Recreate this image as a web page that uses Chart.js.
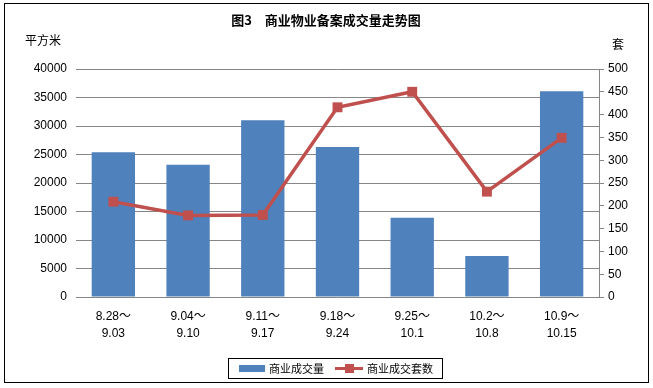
<html>
<head>
<meta charset="UTF-8">
<title>商业物业备案成交量走势图</title>
<style>
body { margin: 0; padding: 0; background: white; }
canvas { display: block; }
</style>
<script src="https://cdnjs.cloudflare.com/ajax/libs/Chart.js/4.4.1/chart.umd.min.js"></script>
</head>
<body>
<canvas id="canvas" width="653" height="388"></canvas>
<script>
// data
const weeks = [
    ["8.28～", "9.03"],
    ["9.04～", "9.10"],
    ["9.11～", "9.17"],
    ["9.18～", "9.24"],
    ["9.25～", "10.1"],
    ["10.2～", "10.8"],
    ["10.9～", "10.15"],
]
const area = [25400, 23200, 31000, 26300, 13900, 7200, 36100]
const units = [209, 179, 180, 416, 450, 231, 349]

const FONT = '"Liberation Sans", "Noto Sans CJK SC", sans-serif'
const CJK = '"Noto Sans CJK SC", sans-serif'
const BLUE = "#4f81bd"
const RED = "#c0504d"
const GRID = "#868686"

const frame = {
    id: "frame",
    beforeDraw(chart) {
        const c = chart.ctx
        c.save()
        c.fillStyle = "white"
        c.fillRect(0, 0, chart.width, chart.height)
        c.restore()
    },
    afterDraw(chart) {
        const c = chart.ctx
        c.save()
        c.strokeStyle = "black"
        c.lineWidth = 1
        c.strokeRect(4.5, 3.5, 644, 379)

        c.fillStyle = "black"
        c.textBaseline = "middle"
        c.textAlign = "center"
        c.font = "bold 13px " + CJK
        c.fillText("图3　商业物业备案成交量走势图", 326, 20)

        c.font = "12px " + CJK
        c.textAlign = "left"
        c.fillText("平方米", 25, 40)
        c.fillText("套", 612, 44)

        // legend
        const bars = chart.data.datasets.find(d => d.type !== "line")
        const line = chart.data.datasets.find(d => d.type === "line")
        c.strokeRect(228.5, 358.5, 214, 20)
        c.fillStyle = BLUE
        c.fillRect(239, 365, 26, 7)
        c.strokeStyle = RED
        c.lineWidth = 3
        c.beginPath()
        c.moveTo(335, 368.5)
        c.lineTo(363, 368.5)
        c.stroke()
        c.fillStyle = RED
        c.fillRect(345, 364, 9, 9)
        c.fillStyle = "black"
        c.font = "11px " + CJK
        c.fillText(bars.label, 269, 368.5)
        c.fillText(line.label, 367, 368.5)
        c.restore()
    },
}

const plain = (v) => String(v)

const ctx = document.getElementById("canvas").getContext("2d")
const chart = new Chart(ctx, {
    type: "bar",
    data: {
        labels: weeks,
        datasets: [
            {
                type: "line",
                label: "商业成交套数",
                data: units,
                yAxisID: "y1",
                borderColor: RED,
                backgroundColor: RED,
                borderWidth: 3.5,
                pointStyle: "rect",
                pointRadius: 7,
                pointHoverRadius: 7,
                pointBorderWidth: 0,
                tension: 0,
                order: 0,
            },
            {
                label: "商业成交量",
                data: area,
                yAxisID: "y",
                backgroundColor: BLUE,
                categoryPercentage: 1,
                barPercentage: 0.58,
                order: 1,
            },
        ],
    },
    options: {
        responsive: false,
        animation: false,
        layout: {padding: {top: 69, left: 0, right: 0, bottom: 0}},
        plugins: {legend: {display: false}, tooltip: {enabled: false}},
        scales: {
            x: {
                grid: {display: false},
                border: {display: false},
                ticks: {color: "black", font: {family: FONT, size: 12, lineHeight: 1.4}, padding: 3, maxRotation: 0, autoSkip: false},
                afterFit: (s) => { s.height = 91 },
            },
            y: {
                position: "left",
                min: 0, max: 40000,
                ticks: {stepSize: 5000, color: "black", font: {family: FONT, size: 12}, padding: 9, callback: plain},
                grid: {color: GRID, drawTicks: false},
                border: {display: false},
                afterFit: (s) => { s.width = 76 },
            },
            y1: {
                position: "right",
                min: 0, max: 500,
                ticks: {stepSize: 50, color: "black", font: {family: FONT, size: 12}, padding: 4, callback: plain},
                grid: {drawOnChartArea: false, color: GRID, tickLength: 5},
                border: {display: true, color: GRID},
                afterFit: (s) => { s.width = 54 },
            },
        },
    },
    plugins: [frame],
})
</script>
</body>
</html>
